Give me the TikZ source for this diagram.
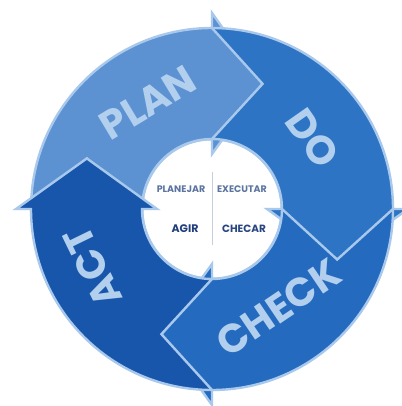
\documentclass[tikz,border=0pt]{standalone}
\usepackage{fontspec}
\setmainfont{Poppins}
\usepackage{tikz}

\definecolor{planblue}{RGB}{92,146,210}
\definecolor{doblue}{RGB}{46,116,196}
\definecolor{checkblue}{RGB}{36,106,190}
\definecolor{actblue}{RGB}{24,86,172}
\definecolor{rimblue}{RGB}{168,200,236}
\definecolor{wordblue}{RGB}{178,207,238}
\definecolor{slateblue}{RGB}{92,116,160}
\definecolor{navyblue}{RGB}{32,62,124}

\begin{document}
\begin{tikzpicture}[
  x=1pt, y=1pt,
  band/.style={draw=rimblue, line width=2.4pt, line join=miter, miter limit=4},
  word/.style={text=wordblue, inner sep=0pt, font=\fontsize{40}{40}\selectfont\bfseries},
  tag/.style={font=\fontsize{9.5}{10}\selectfont\bfseries},
  divider/.style={draw=slateblue!35, line width=0.8pt}
]
\useasboundingbox (-212,-197) rectangle (189,209);

\node[circle, fill=white, draw=rimblue, line width=3pt, minimum size=140pt] (core) at (0,0) {};

% four curved arrows, clockwise
\foreach \a/\col in {180/planblue, 90/doblue, 0/checkblue, -90/actblue}{
  \pgfmathsetmacro\b{\a-90}
  \filldraw[band, fill=\col] (\a:181) arc[start angle=\a, end angle=\b, radius=181]
    -- (\b:196) -- (\b-22:135) -- (\b:55) -- (\b:70)
    arc[start angle=\b, end angle=\a, radius=70] -- (\a-22:135) -- cycle;
}

\node[word, rotate=31] (plan) at (121:124) {PLAN};
\node[word, rotate=-55] (do) at (35:123) {DO};
\node[word, rotate=34] (check) at (-56:119) {CHECK};
\node[word, rotate=116] (act) at (206:133) {ACT};

\node[tag, text=slateblue] (planejar) at (-31,20) {PLANEJAR};
\node[tag, text=slateblue] (executar) at (30,20) {EXECUTAR};
\node[tag, text=navyblue, font=\fontsize{11}{12}\selectfont\bfseries] (agir) at (-27,-20) {AGIR};
\node[tag, text=navyblue!85!slateblue, font=\fontsize{10.5}{12}\selectfont\bfseries] (checar) at (32,-20) {CHECAR};

\coordinate (divtop) at (0,37);
\coordinate (divbot) at (0,-36);
\draw[divider] (divtop) -- (divbot);
\end{tikzpicture}
\end{document}
